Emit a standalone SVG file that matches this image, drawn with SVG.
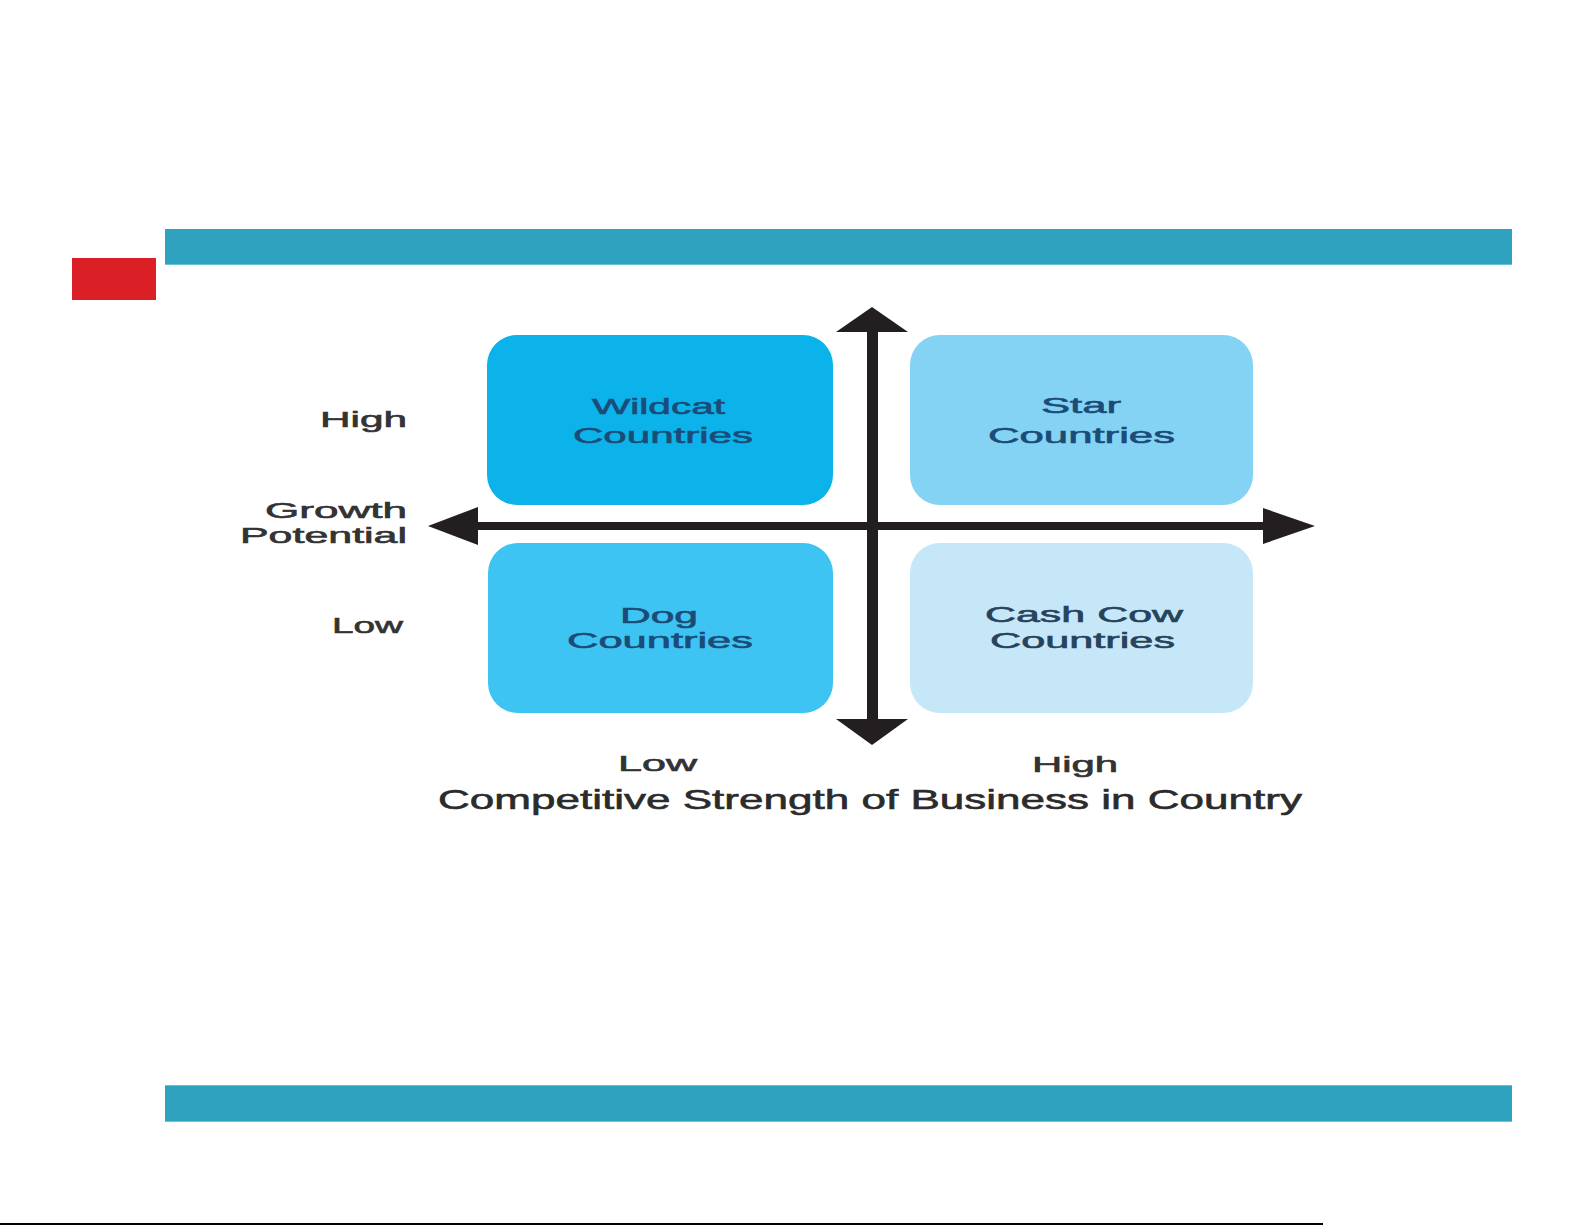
<svg xmlns="http://www.w3.org/2000/svg" width="1585" height="1225" viewBox="0 0 1585 1225">
  <style>
    .bar { fill: #2ea2bf; }
    .edge { fill: #6cc3d8; }
    .box { stroke: none; }
    .lbl { font-family: "Liberation Sans", Arial, sans-serif; font-size: 22px; fill: #333333; stroke: #333333; stroke-width: 0.6px; }
    .title { font-family: "Liberation Sans", Arial, sans-serif; font-size: 28px; fill: #2b2b2b; stroke: #2b2b2b; stroke-width: 0.6px; }
    .btxt { font-family: "Liberation Sans", Arial, sans-serif; font-size: 22px; fill: #1b4c78; stroke: #1b4c78; stroke-width: 0.6px; }
    .btxt2 { font-family: "Liberation Sans", Arial, sans-serif; font-size: 22px; fill: #27435c; stroke: #27435c; stroke-width: 0.6px; }
    .axis { fill: #231f20; }
  </style>
  <rect width="1585" height="1225" fill="#ffffff"/>

  <g id="header-bar">
    <rect class="bar" x="165" y="229" width="1347" height="36"/>
    <rect class="edge" x="165" y="264" width="1347" height="1"/>
  </g>
  <g id="red-marker">
    <rect x="72" y="258" width="84" height="42" fill="#da1f27"/>
  </g>
  <g id="footer-bar">
    <rect class="bar" x="165" y="1085" width="1347" height="37"/>
    <rect class="edge" x="165" y="1085" width="1347" height="1"/>
    <rect class="edge" x="165" y="1121" width="1347" height="1"/>
  </g>
  <g id="bottom-rule">
    <rect x="0" y="1223" width="1323" height="2" fill="#000000"/>
  </g>

  <g id="wildcat">
    <rect class="box" x="487" y="335" width="346" height="170" rx="30" fill="#0cb3ea"/>
    <text class="btxt" x="592" y="414" textLength="133" lengthAdjust="spacingAndGlyphs">Wildcat</text>
    <text class="btxt" x="573" y="443" textLength="180" lengthAdjust="spacingAndGlyphs">Countries</text>
  </g>
  <g id="star">
    <rect class="box" x="910" y="335" width="343" height="170" rx="30" fill="#84d2f4"/>
    <text class="btxt" x="1041" y="413" textLength="80" lengthAdjust="spacingAndGlyphs">Star</text>
    <text class="btxt" x="988" y="443" textLength="187" lengthAdjust="spacingAndGlyphs">Countries</text>
  </g>
  <g id="dog">
    <rect class="box" x="488" y="543" width="345" height="170" rx="30" fill="#3ec4f2"/>
    <text class="btxt" x="620" y="623" textLength="78" lengthAdjust="spacingAndGlyphs">Dog</text>
    <text class="btxt" x="567" y="648" textLength="186" lengthAdjust="spacingAndGlyphs">Countries</text>
  </g>
  <g id="cash-cow">
    <rect class="box" x="910" y="543" width="343" height="170" rx="30" fill="#c6e7f7"/>
    <text class="btxt2" x="985" y="622" textLength="198" lengthAdjust="spacingAndGlyphs">Cash Cow</text>
    <text class="btxt2" x="990" y="648" textLength="185" lengthAdjust="spacingAndGlyphs">Countries</text>
  </g>

  <g id="connectors">
    <rect class="axis" x="867" y="330" width="11" height="392"/>
    <polygon class="axis" points="872,307 908,332 836,332"/>
    <polygon class="axis" points="872,745 908,719 836,719"/>
    <rect class="axis" x="476" y="522" width="790" height="8"/>
    <polygon class="axis" points="428,526 478,507 478,545"/>
    <polygon class="axis" points="1315,526 1263,508 1263,544"/>
  </g>

  <g id="axis-labels">
    <text class="lbl" x="320" y="427" textLength="87" lengthAdjust="spacingAndGlyphs">High</text>
    <text class="lbl" x="265" y="518" textLength="142" lengthAdjust="spacingAndGlyphs">Growth</text>
    <text class="lbl" x="240" y="543" textLength="167" lengthAdjust="spacingAndGlyphs">Potential</text>
    <text class="lbl" x="332" y="633" textLength="71" lengthAdjust="spacingAndGlyphs">Low</text>
    <text class="lbl" x="618" y="771" textLength="79" lengthAdjust="spacingAndGlyphs">Low</text>
    <text class="lbl" x="1032" y="772" textLength="86" lengthAdjust="spacingAndGlyphs">High</text>
    <text class="title" x="438" y="809" textLength="864" lengthAdjust="spacingAndGlyphs">Competitive Strength of Business in Country</text>
  </g>
</svg>
